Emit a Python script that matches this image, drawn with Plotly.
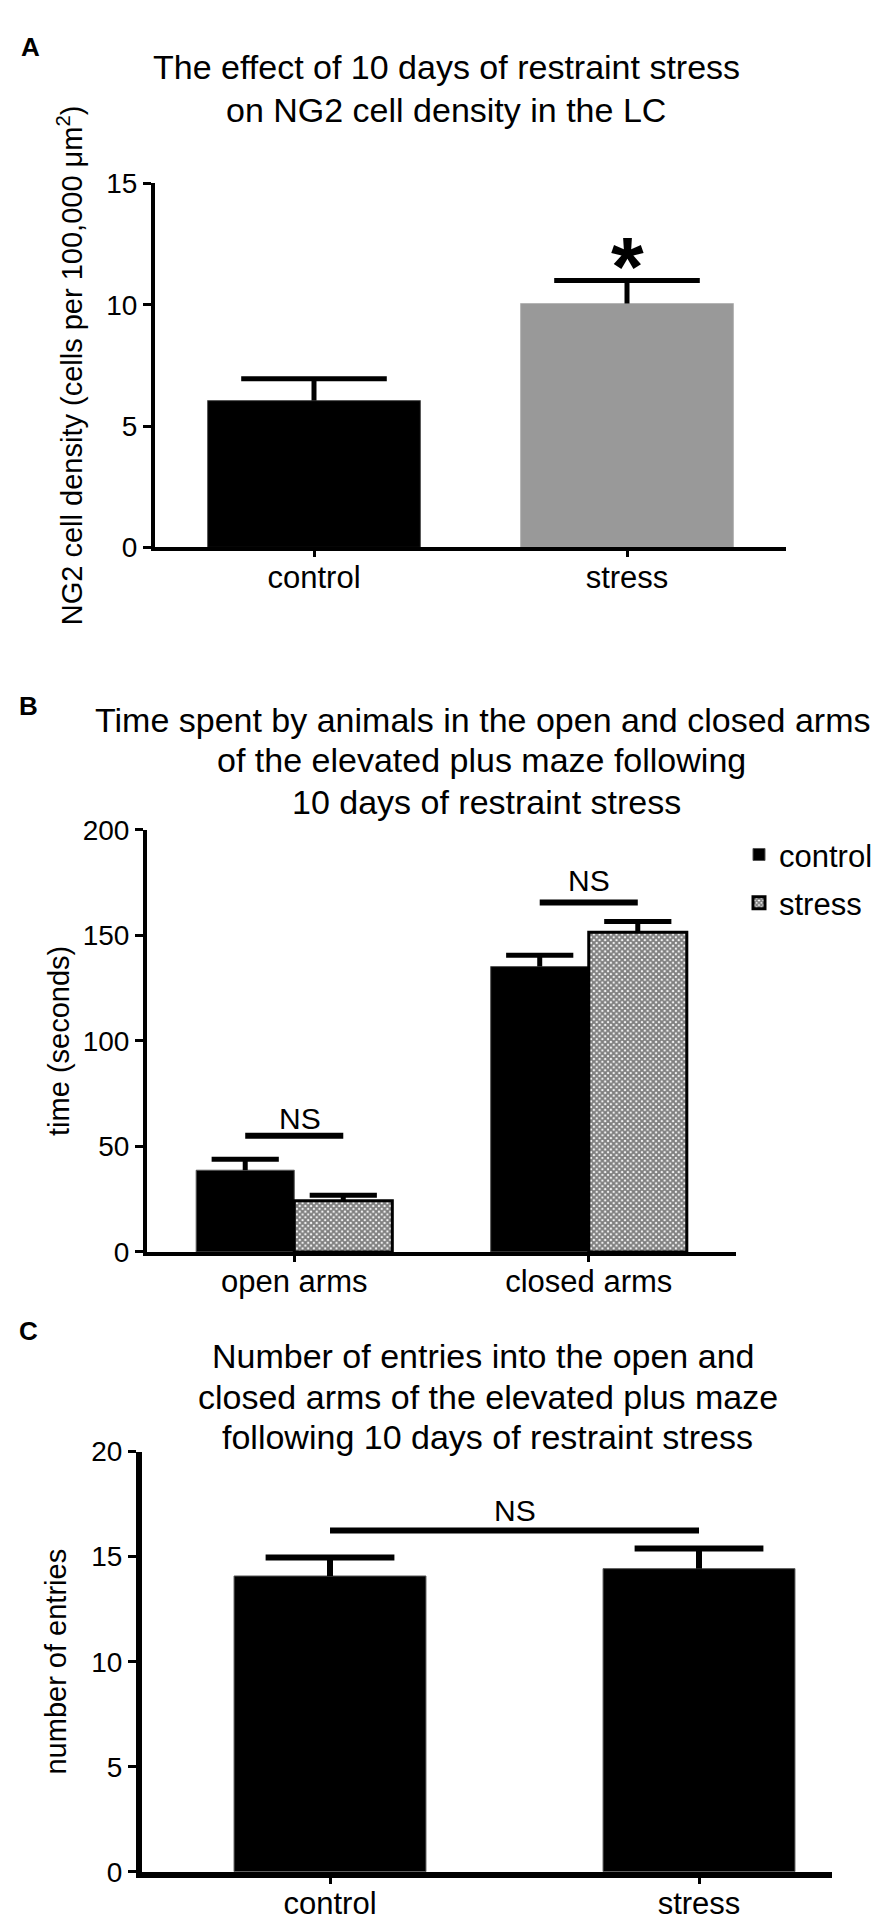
import plotly.graph_objects as go

# ---------------- data ----------------
a_categories = ["control", "stress"]
a_means = [6.05, 10.05]
a_sem = [0.9, 0.95]
a_sig = "*"

b_categories = ["open arms", "closed arms"]
b_control = [38.7, 135.2]
b_control_sem = [5.2, 5.4]
b_stress = [24.2, 151.5]
b_stress_sem = [2.6, 5.1]
b_ns_level = [55.0, 165.5]
b_ns_text_level = [63.0, 176.0]

c_categories = ["control", "stress"]
c_means = [14.08, 14.43]
c_sem = [0.88, 0.96]
c_ns_level = 16.25
c_ns_text_level = 17.2

a_yticks = [0, 5, 10, 15]
b_yticks = [0, 50, 100, 150, 200]
c_yticks = [0, 5, 10, 15, 20]

# ---------------- layout helpers ----------------
W, H = 892, 1927
FONT = "Liberation Sans, Arial, Helvetica, sans-serif"


def px_x(p):
    return p / W


def px_y(p):
    return 1 - p / H


def stem(err):
    # one-sided error bar stem (caps are drawn separately as markers)
    return dict(type="data", array=err, arrayminus=[0] * len(err), symmetric=False,
                color="black", thickness=5, width=0)


def caps(xs, means, errs, size, lw, xa, ya):
    return go.Scatter(x=xs, y=[m + e for m, e in zip(means, errs)], mode="markers",
                      marker=dict(symbol="line-ew", size=size, color="black",
                                  line=dict(color="black", width=lw)),
                      xaxis=xa, yaxis=ya, showlegend=False, hoverinfo="skip", cliponaxis=False)


fig = go.Figure()

# Panel A
a_x = list(range(len(a_categories)))
fig.add_trace(go.Bar(
    x=a_x, y=a_means, width=0.68,
    marker=dict(color=["black", "#999999"],
                line=dict(color=["#555555", "#b5b5b5"], width=1)),
    error_y=stem(a_sem),
    xaxis="x", yaxis="y", showlegend=False, hoverinfo="skip"))
fig.add_trace(caps(a_x, a_means, a_sem, 104, 5, "x", "y"))

# Panel B
bw = 0.333
b_x = list(range(len(b_categories)))
fig.add_trace(go.Bar(
    x=b_x, y=b_control, width=bw, offset=-bw, name="control", legendgroup="control",
    marker=dict(color="black", line=dict(color="#555555", width=1)),
    error_y=stem(b_control_sem),
    xaxis="x2", yaxis="y2", hoverinfo="skip"))
fig.add_trace(go.Bar(
    x=b_x, y=b_stress, width=bw, offset=0, name="stress", legendgroup="stress",
    marker=dict(color="white", line=dict(color="black", width=3),
                pattern=dict(shape="x", fgcolor="black", bgcolor="white", size=4, solidity=0.75)),
    error_y=stem(b_stress_sem),
    xaxis="x2", yaxis="y2", hoverinfo="skip"))
fig.add_trace(caps([i - bw / 2 for i in b_x], b_control, b_control_sem, 48, 5, "x2", "y2"))
fig.add_trace(caps([i + bw / 2 for i in b_x], b_stress, b_stress_sem, 48, 5, "x2", "y2"))

# Panel C
c_x = list(range(len(c_categories)))
fig.add_trace(go.Bar(
    x=c_x, y=c_means, width=0.52,
    marker=dict(color="black", line=dict(color="#555555", width=1)),
    error_y=dict(stem(c_sem), thickness=6),
    xaxis="x3", yaxis="y3", showlegend=False, hoverinfo="skip"))
fig.add_trace(caps(c_x, c_means, c_sem, 92, 6, "x3", "y3"))

# significance lines
shapes = []
for i, lvl in enumerate(b_ns_level):
    shapes.append(dict(type="line", xref="x2", yref="y2", x0=i - bw / 2, x1=i + bw / 2,
                       y0=lvl, y1=lvl, line=dict(color="black", width=6)))
shapes.append(dict(type="line", xref="x3", yref="y3", x0=0, x1=1,
                   y0=c_ns_level, y1=c_ns_level, line=dict(color="black", width=6)))

annotations = []


def title_line(text, cx, cy, size=34):
    annotations.append(dict(text=text, xref="paper", yref="paper", x=px_x(cx), y=px_y(cy),
                            xanchor="center", yanchor="middle", showarrow=False,
                            font=dict(family=FONT, size=size, color="black")))


title_line("The effect of 10 days of restraint stress", 438, 45)
title_line("on NG2 cell density in the LC", 438, 88)
title_line("Time spent by animals in the open and closed arms", 474, 708)
title_line("of the elevated plus maze following", 473, 749)
title_line("10 days of restraint stress", 478, 792)
title_line("Number of entries into the open and", 475, 1355)
title_line("closed arms of the elevated plus maze", 480, 1396)
title_line("following 10 days of restraint stress", 479, 1437)

for lab, cx, cy in [("A", 22, 24), ("B", 20, 694), ("C", 20, 1329)]:
    annotations.append(dict(text="<b>%s</b>" % lab, xref="paper", yref="paper",
                            x=px_x(cx), y=px_y(cy), xanchor="center", yanchor="middle",
                            showarrow=False, font=dict(family=FONT, size=26, color="black")))

# asterisk
annotations.append(dict(text="<b>%s</b>" % a_sig, xref="x", yref="y", x=1, y=11.55,
                        xanchor="center", yanchor="middle", showarrow=False,
                        font=dict(family=FONT, size=84, color="black")))
# NS labels
for i, lvl in enumerate(b_ns_text_level):
    annotations.append(dict(text="NS", xref="x2", yref="y2", x=i + 0.02 * (1 - i), y=lvl,
                            xanchor="center", yanchor="middle", showarrow=False,
                            font=dict(family=FONT, size=30, color="black")))
annotations.append(dict(text="NS", xref="x3", yref="y3", x=0.5, y=c_ns_text_level,
                        xanchor="center", yanchor="middle", showarrow=False,
                        font=dict(family=FONT, size=30, color="black")))


def xax(domain, rng, ticktext, anchor, lw=4):
    return dict(domain=domain, range=rng, tickvals=list(range(len(ticktext))), ticktext=ticktext,
                showline=True, linecolor="black", linewidth=lw, ticks="outside", ticklen=6,
                tickwidth=3, tickcolor="black", showgrid=False, zeroline=False, anchor=anchor,
                ticklabelstandoff=-7,
                tickfont=dict(family=FONT, size=31, color="black"), fixedrange=True)


def yax(domain, rng, tickvals, title, standoff, anchor, lw=4, tsize=29):
    return dict(domain=domain, range=rng, tickvals=tickvals, showline=True, linecolor="black",
                linewidth=lw, ticks="outside", ticklen=8, tickwidth=3, tickcolor="black",
                showgrid=False, zeroline=False, anchor=anchor,
                tickfont=dict(family=FONT, size=28, color="black"),
                title=dict(text=title, standoff=standoff, font=dict(family=FONT, size=tsize, color="black")),
                fixedrange=True)


fig.update_layout(
    width=W, height=H, margin=dict(l=0, r=0, t=0, b=0),
    paper_bgcolor="white", plot_bgcolor="white", barmode="overlay",
    font=dict(family=FONT, color="black"),
    xaxis=xax([px_x(147), px_x(778)], [-0.508, 1.508], a_categories, "y", 4),
    yaxis=yax([px_y(533), px_y(163)], [0, 15], a_yticks,
              "NG2 cell density (cells per 100,000 μm<sup>2</sup>)", 16, "x", 4, 29),
    xaxis2=xax([px_x(139), px_x(728)], [-0.5, 1.5], b_categories, "y2", 4),
    yaxis2=yax([px_y(1249), px_y(820)], [0, 200], b_yticks, "time (seconds)", 6, "x2", 4, 29),
    xaxis3=xax([px_x(134), px_x(824)], [-0.5095, 1.3604], c_categories, "y3", 6),
    yaxis3=yax([px_y(1879), px_y(1452)], [0, 20], c_yticks, "number of entries", 18, "x3", 6, 29),
    shapes=shapes, annotations=annotations,
    legend=dict(x=px_x(731), y=px_y(818), xanchor="left", yanchor="top",
                font=dict(family=FONT, size=31, color="black"), bgcolor="rgba(0,0,0,0)",
                tracegroupgap=5, traceorder="grouped"),
    showlegend=True,
)

fig.write_html("out.html")
